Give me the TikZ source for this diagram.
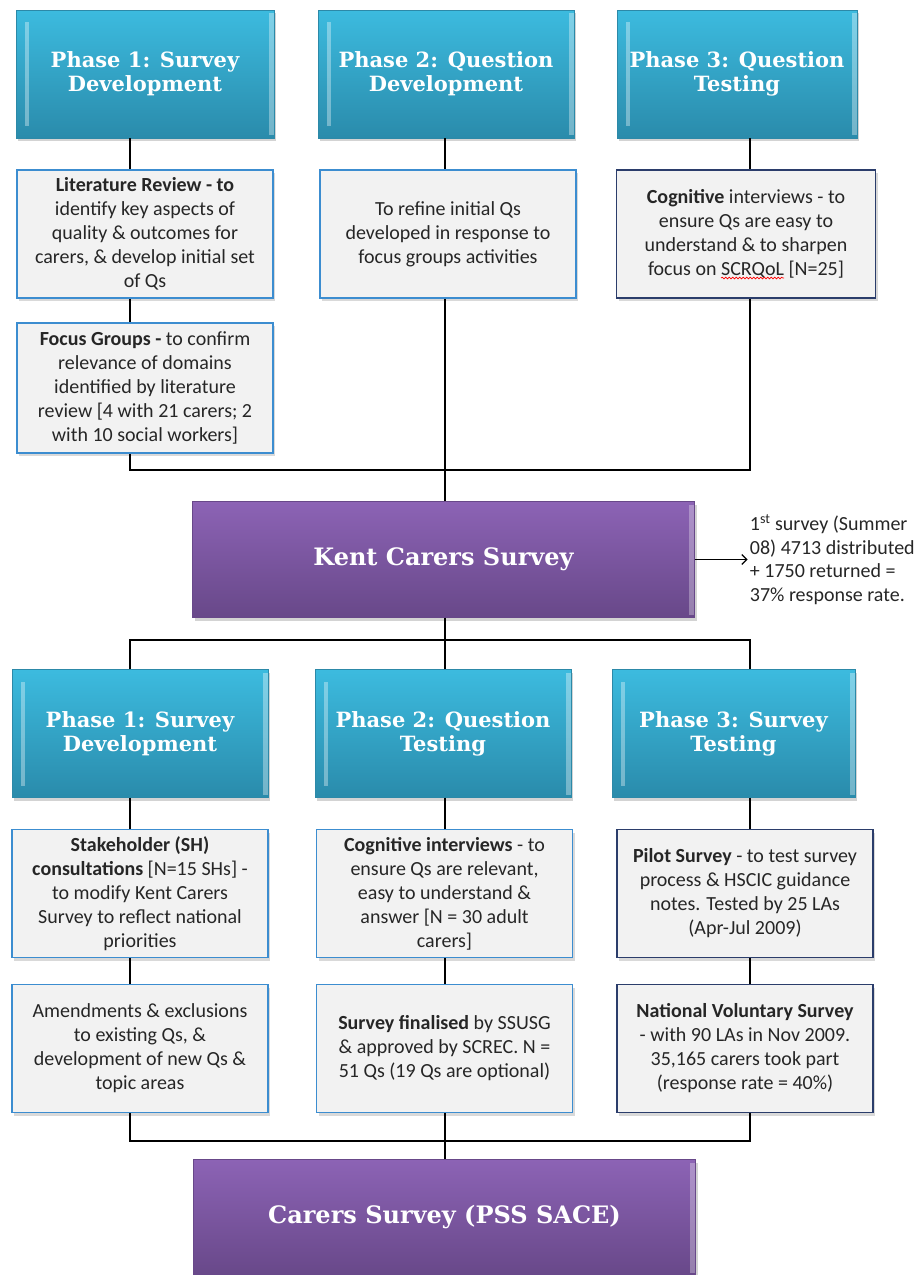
\documentclass[tikz,border=0pt]{standalone}
\usepackage{fontspec}
\setmainfont{Carlito}
\newfontfamily\headfont{DejaVu Serif}
\usepackage{tikz}
\usetikzlibrary{positioning,shadows,arrows.meta,decorations.pathmorphing}

\definecolor{phasetop}{HTML}{3CBBDF}
\definecolor{phasebot}{HTML}{2A8BAB}
\definecolor{phaseedge}{HTML}{2C89A8}
\definecolor{purtop}{HTML}{8C63B5}
\definecolor{purbot}{HTML}{684889}
\definecolor{boxfill}{HTML}{F2F2F2}
\definecolor{boxblue}{HTML}{3C8DD0}
\definecolor{boxnavy}{HTML}{2B3D6B}
\definecolor{bodytext}{HTML}{262626}

\newlength\lineW
\newlength\preW
\newlength\wordW

\begin{document}
% widths for the red squiggle under SCRQoL
\settowidth\lineW{\fontsize{20}{24}\selectfont focus on SCRQoL [N=25]}
\settowidth\preW{\fontsize{20}{24}\selectfont focus on }
\settowidth\wordW{\fontsize{20}{24}\selectfont SCRQoL}
\begin{tikzpicture}[
    x=1pt, y=-1pt,
    node distance=160pt,
    >={Straight Barb[length=5pt,width=10pt]},
    phase/.style={
		rectangle,
		draw=phaseedge,
		top color=phasetop,
		bottom color=phasebot,
		minimum width=256pt,
		minimum height=128pt,
		text=white,
		align=center,
		font=\headfont\bfseries\fontsize{21}{24}\selectfont,
		drop shadow={shadow xshift=2pt, shadow yshift=-3pt, opacity=0.35},
		path picture={
		  \fill[white, opacity=0.35] ([xshift=9pt,yshift=-12pt]path picture bounding box.north west) rectangle ([xshift=13pt,yshift=12pt]path picture bounding box.south west);
		  \fill[white, opacity=0.35] ([xshift=-5pt,yshift=-3pt]path picture bounding box.north east) rectangle ([yshift=3pt]path picture bounding box.south east);
		}
	},
	survey/.style={
		rectangle,
		draw=purbot,
		top color=purtop,
		bottom color=purbot,
		minimum width=502pt,
		minimum height=116pt,
		text=white,
		font=\headfont\bfseries\fontsize{24}{28}\selectfont,
		drop shadow={shadow xshift=2pt, shadow yshift=-3pt, opacity=0.35},
		path picture={
		  \fill[white, opacity=0.3] ([xshift=-6pt,yshift=-3pt]path picture bounding box.north east) rectangle ([yshift=3pt]path picture bounding box.south east);
		}
	},
	info/.style={
		rectangle,
		draw=boxblue,
		line width=1.6pt,
		fill=boxfill,
		minimum width=256pt,
		minimum height=128pt,
		align=center,
		text=bodytext,
		font=\fontsize{20}{24}\selectfont,
		drop shadow={shadow xshift=2pt, shadow yshift=-3pt, opacity=0.3}
	},
	infodark/.style={
		info,
		draw=boxnavy
	},
	note/.style={
		align=left,
		inner sep=2pt,
		text=bodytext,
		font=\fontsize{20}{23.5}\selectfont
	},
	link/.style={
	  draw=black,
	  line width=1.3pt
    },
	spell/.style={
	  draw=red,
	  line width=0.7pt,
	  decorate,
	  decoration={snake, amplitude=0.8pt, segment length=3.5pt}
    }
  ]

\useasboundingbox (0,0) rectangle (922,1275);

% columns and buses
\coordinate (col1) at (130,0);
\coordinate (col2) at (445,0);
\coordinate (col3) at (750,0);
\coordinate (bustop) at (0,470);
\coordinate (busmid) at (0,640);
\coordinate (busbot) at (0,1141);

% // Kent survey phases
\node [phase, minimum width=258pt] (ph1) at (145,74) {Phase 1: Survey\\Development};
\node [phase] (ph2) at (446,74) {Phase 2: Question\\Development};
\node [phase, minimum width=240pt] (ph3) at (737,74) {Phase 3: Question\\Testing};

\node [info, below of=ph1] (lit)
 {\textbf{Literature Review - to}\\
  identify key aspects of\\
  quality \& outcomes for\\
  carers, \& develop initial set\\
  of Qs};
\node [info, below of=lit, yshift=6pt, minimum height=130pt] (focus)
 {\textbf{Focus Groups -} to confirm\\
  relevance of domains\\
  identified by literature\\
  review [4 with 21 carers; 2\\
  with 10 social workers]};
\node [info, below of=ph2, xshift=2pt] (refine)
 {To refine initial Qs\\
  developed in response to\\
  focus groups activities};
\node [infodark, below of=ph3, xshift=9pt, minimum width=259pt] (cog)
 {\textbf{Cognitive} interviews - to\\
  ensure Qs are easy to\\
  understand \& to sharpen\\
  focus on SCRQoL [N=25]};
\draw [spell] ([xshift=-0.5\lineW+\preW, yshift=-44pt]cog.center) -- ([xshift=-0.5\lineW+\preW+\wordW, yshift=-44pt]cog.center);

\node [survey] (kent) at (443.5,559.5) {Kent Carers Survey};
\node [note, right=53pt of kent] (note)
 {1\textsuperscript{st} survey (Summer\\
  08) 4713 distributed\\
  + 1750 returned =\\
  37\% response rate.};

\draw [link] (ph1.south -| col1) -- (lit.north -| col1);
\draw [link] (lit.south -| col1) -- (focus.north -| col1);
\draw [link] (ph2.south -| col2) -- (refine.north -| col2);
\draw [link] (ph3.south -| col3) -- (cog.north -| col3);
\draw [link] (focus.south -| col1) -- (col1 |- bustop) -- (col3 |- bustop) -- (cog.south -| col3);
\draw [link] (refine.south -| col2) -- (kent.north -| col2);
\draw [link, ->] (kent.east) -- (note.west);

% // National survey phases
\node [phase] (ph1b) at (140,733.5) {Phase 1: Survey\\Development};
\node [phase] (ph2b) at (443,733.5) {Phase 2: Question\\Testing};
\node [phase, minimum width=243pt] (ph3b) at (733.5,733.5) {Phase 3: Survey\\Testing};

\node [info, below of=ph1b] (stake)
 {\textbf{Stakeholder (SH)}\\
  \textbf{consultations} [N=15 SHs] -\\
  to modify Kent Carers\\
  Survey to reflect national\\
  priorities};
\node [info, below of=stake, yshift=5pt] (amend)
 {Amendments \& exclusions\\
  to existing Qs, \&\\
  development of new Qs \&\\
  topic areas};
\node [info, below of=ph2b, xshift=1.5pt] (cogb)
 {\textbf{Cognitive interviews} - to\\
  ensure Qs are relevant,\\
  easy to understand \&\\
  answer [N = 30 adult\\
  carers]};
\node [info, below of=cogb, yshift=5pt] (final)
 {\textbf{Survey finalised} by SSUSG\\
  \& approved by SCREC. N =\\
  51 Qs (19 Qs are optional)};
\node [infodark, below of=ph3b, xshift=11.5pt] (pilot)
 {\textbf{Pilot Survey} - to test survey\\
  process \& HSCIC guidance\\
  notes. Tested by 25 LAs\\
  (Apr-Jul 2009)};
\node [infodark, below of=pilot, yshift=5pt] (natvol)
 {\textbf{National Voluntary Survey}\\
  - with 90 LAs in Nov 2009.\\
  35,165 carers took part\\
  (response rate = 40\%)};

\node [survey, below of=final, yshift=-9pt] (pss) {Carers Survey (PSS SACE)};

\draw [link] (kent.south -| col2) -- (ph2b.north -| col2);
\draw [link] (ph1b.north -| col1) -- (col1 |- busmid) -- (col3 |- busmid) -- (ph3b.north -| col3);
\draw [link] (ph1b.south -| col1) -- (stake.north -| col1);
\draw [link] (stake.south -| col1) -- (amend.north -| col1);
\draw [link] (ph2b.south -| col2) -- (cogb.north -| col2);
\draw [link] (cogb.south -| col2) -- (final.north -| col2);
\draw [link] (ph3b.south -| col3) -- (pilot.north -| col3);
\draw [link] (pilot.south -| col3) -- (natvol.north -| col3);
\draw [link] (amend.south -| col1) -- (col1 |- busbot) -- (col3 |- busbot) -- (natvol.south -| col3);
\draw [link] (final.south -| col2) -- (pss.north -| col2);

\end{tikzpicture}
\end{document}
